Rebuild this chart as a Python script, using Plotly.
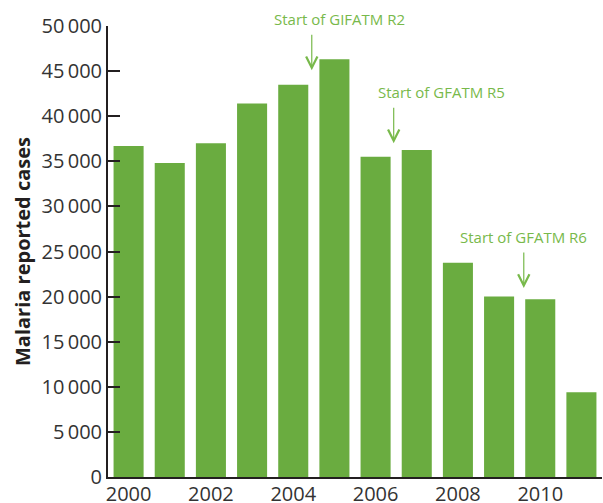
import plotly.graph_objects as go

years = [2000, 2001, 2002, 2003, 2004, 2005, 2006, 2007, 2008, 2009, 2010, 2011]
cases = [36700, 34800, 37000, 41400, 43500, 46300, 35500, 36250, 23750, 20000, 19700, 9400]

x_label_years = [2000, 2002, 2004, 2006, 2008, 2010]
y_ticks = [0, 5000, 10000, 15000, 20000, 25000, 30000, 35000, 40000, 45000, 50000]

ann_texts = ["Start of GIFATM R2", "Start of GFATM R5", "Start of GFATM R6"]
ann_arrow_x = [2004.45, 2006.44, 2009.6]
ann_arrow_y = [45100, 37000, 20950]
ann_text_x = [2005.12, 2007.6, 2009.6]
ann_text_y = [45100, 37000, 20950]

BAR = "#6aac40"
GREEN_TXT = "#78b94b"
AX = "#231f20"
FONT = "Open Sans"

fig = go.Figure()
fig.add_trace(go.Bar(x=years, y=cases, marker_color=BAR, marker_line_width=0,
                     width=0.73, showlegend=False))

for t, axx, axy, tx, ty in zip(ann_texts, ann_arrow_x, ann_arrow_y, ann_text_x, ann_text_y):
    fig.add_annotation(x=axx, y=axy, xref="x", yref="y", text="", showarrow=True,
                       ax=0, ay=-37, arrowhead=5, arrowsize=1.85, arrowwidth=1.2,
                       arrowcolor=GREEN_TXT)
    fig.add_annotation(x=tx, y=ty, xref="x", yref="y", text=t, showarrow=False,
                       yshift=51, font=dict(family=FONT, size=15, color=GREEN_TXT))

fig.update_layout(
    width=603, height=503,
    margin=dict(l=108, r=1, t=26, b=26),
    plot_bgcolor="white", paper_bgcolor="white",
    separators=".\u2009",
    font=dict(family=FONT, color="#333333"),
    xaxis=dict(range=[1999.5, 2011.5], tickvals=x_label_years, ticks="",
               showline=True, linewidth=2, linecolor=AX, showgrid=False, zeroline=False,
               automargin=False, ticklabelstandoff=-2,
               tickfont=dict(size=20, color="#333333")),
    xaxis2=dict(range=[1999.5, 2011.5], overlaying="x", anchor="y", side="bottom",
                tickvals=[y + 0.5 for y in years[:-1]], ticks="inside", ticklen=12,
                tickwidth=2, tickcolor=AX, showticklabels=False, showgrid=False,
                zeroline=False, showline=False, automargin=False),
    yaxis=dict(range=[0, 50000], tickvals=y_ticks, tickformat=",d", ticks="inside",
               ticklen=12, tickwidth=2, tickcolor=AX, showline=True, linewidth=2,
               linecolor=AX, showgrid=False, zeroline=False, automargin=False,
               tickfont=dict(size=20, color="#333333"),
               title=dict(text="<b>Malaria reported cases</b>", standoff=6,
                          font=dict(size=20, color="#231f20"))),
)

fig.write_html("out.html", config={"displayModeBar": False},
               post_script="document.body.style.margin='0';document.body.style.overflow='hidden';")
